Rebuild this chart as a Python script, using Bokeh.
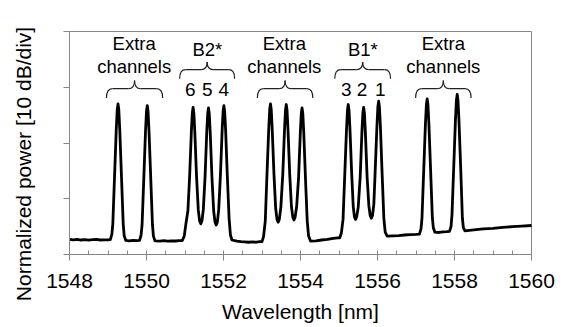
import math
from bokeh.plotting import figure
from bokeh.models import Range1d, FixedTicker
from bokeh.core.properties import value
from bokeh.embed import file_html
from bokeh.resources import INLINE

FONT = "Liberation Sans"
AXIS_GRAY = "#868686"

# ---- spectrum (wavelength in nm, power in dB) ----
wavelength_nm = [
    1548.00, 1548.10, 1548.20, 1548.30, 1548.40, 1548.50, 1548.60, 1548.70, 1548.80, 1548.90, 1549.00,
    # extra channel
    1549.06, 1549.10, 1549.125, 1549.17, 1549.215, 1549.24, 1549.26, 1549.28, 1549.305, 1549.35, 1549.395, 1549.42, 1549.46,
    1549.55, 1549.65, 1549.75,
    # extra channel
    1549.82, 1549.86, 1549.885, 1549.93, 1549.975, 1550.00, 1550.02, 1550.04, 1550.065, 1550.11, 1550.155, 1550.18, 1550.22,
    1550.35, 1550.45, 1550.55, 1550.65, 1550.75, 1550.85,
    # B2 group (6, 5, 4)
    1550.93, 1550.98, 1551.03, 1551.075, 1551.12, 1551.165, 1551.19, 1551.21, 1551.23, 1551.255, 1551.30, 1551.345, 1551.38,
    1551.41, 1551.44, 1551.475, 1551.52, 1551.565, 1551.59, 1551.61, 1551.63, 1551.655, 1551.70, 1551.745, 1551.78,
    1551.81, 1551.84, 1551.875, 1551.92, 1551.965, 1551.99, 1552.01, 1552.03, 1552.055, 1552.10, 1552.145, 1552.18, 1552.22,
    1552.35, 1552.45, 1552.55, 1552.65, 1552.75, 1552.85, 1552.95,
    # extra group (three channels)
    1553.00, 1553.04, 1553.085, 1553.13, 1553.175, 1553.20, 1553.22, 1553.24, 1553.265, 1553.31, 1553.355, 1553.39,
    1553.42, 1553.45, 1553.49, 1553.54, 1553.585, 1553.61, 1553.63, 1553.65, 1553.675, 1553.72, 1553.765, 1553.80,
    1553.83, 1553.86, 1553.90, 1553.95, 1553.995, 1554.02, 1554.04, 1554.06, 1554.085, 1554.13, 1554.175, 1554.21, 1554.26,
    1554.40, 1554.55, 1554.70, 1554.85, 1554.97,
    # B1 group (3, 2, 1)
    1555.02, 1555.06, 1555.105, 1555.15, 1555.195, 1555.22, 1555.24, 1555.26, 1555.285, 1555.33, 1555.37, 1555.40,
    1555.43, 1555.46, 1555.50, 1555.55, 1555.595, 1555.62, 1555.64, 1555.66, 1555.685, 1555.73, 1555.775, 1555.81,
    1555.84, 1555.87, 1555.905, 1555.94, 1555.985, 1556.01, 1556.03, 1556.05, 1556.075, 1556.12, 1556.165, 1556.20, 1556.25,
    1556.40, 1556.55, 1556.70, 1556.85, 1557.00,
    # extra channels
    1557.09, 1557.13, 1557.155, 1557.20, 1557.245, 1557.27, 1557.29, 1557.31, 1557.335, 1557.38, 1557.425, 1557.45, 1557.49,
    1557.60, 1557.70, 1557.80,
    1557.87, 1557.91, 1557.935, 1557.98, 1558.025, 1558.05, 1558.07, 1558.09, 1558.115, 1558.16, 1558.205, 1558.23, 1558.27,
    1558.50, 1558.75, 1559.00, 1559.25, 1559.50, 1559.75, 1560.00,
]
power_db = [
    2.70, 2.62, 2.72, 2.60, 2.68, 2.58, 2.66, 2.70, 2.60, 2.64, 2.62,
    2.65, 3.6, 5.5, 14.0, 22.5, 26.0, 27.0, 26.0, 22.5, 14.0, 5.5, 3.4, 2.55,
    2.45, 2.55, 2.48,
    2.55, 3.5, 5.3, 13.7, 22.2, 25.7, 26.7, 25.7, 22.2, 13.7, 5.3, 3.3, 2.45,
    2.40, 2.48, 2.38, 2.45, 2.42, 2.50,
    2.5, 3.3, 5.8, 7.8, 14.0, 22.0, 25.4, 26.4, 25.4, 22.0, 14.0, 8.0, 6.0,
    5.5, 6.0, 8.0, 13.8, 21.9, 25.3, 26.3, 25.3, 21.9, 13.8, 7.8, 5.8,
    5.3, 5.8, 8.0, 14.2, 22.3, 25.7, 26.7, 25.7, 22.3, 14.0, 6.5, 3.5, 2.6,
    2.40, 2.30, 2.25, 2.20, 2.25, 2.20, 2.30,
    2.3, 3.2, 6.0, 14.5, 22.5, 26.0, 27.0, 26.0, 22.5, 14.5, 8.3, 6.3,
    5.8, 6.3, 8.5, 14.4, 22.4, 25.9, 26.9, 25.9, 22.4, 14.4, 8.6, 6.7,
    6.2, 6.7, 8.6, 13.8, 21.8, 25.3, 26.3, 25.3, 21.8, 13.5, 6.0, 3.3, 2.4,
    2.45, 2.60, 2.70, 2.90, 3.00,
    3.0, 3.8, 6.3, 14.4, 22.4, 25.9, 26.9, 25.9, 22.4, 14.4, 8.6, 6.8,
    6.3, 6.8, 8.5, 13.9, 21.9, 25.4, 26.4, 25.4, 21.9, 13.9, 8.8, 7.0,
    6.5, 7.0, 9.0, 15.0, 23.0, 26.5, 27.5, 26.5, 23.0, 14.5, 6.5, 4.0, 3.3,
    3.35, 3.40, 3.50, 3.55, 3.60,
    3.65, 4.6, 6.5, 15.0, 23.4, 26.9, 27.9, 26.9, 23.4, 15.0, 6.6, 4.8, 4.0,
    3.95, 4.05, 4.10,
    4.15, 5.0, 7.2, 15.7, 24.2, 27.7, 28.7, 27.7, 24.2, 15.7, 6.5, 4.8, 4.25,
    4.40, 4.60, 4.70, 4.85, 5.00, 5.10, 5.20,
]

# ---- axes ----
X_MIN, X_MAX = 1548, 1560
Y_MIN, Y_MAX = 0, 40
x_ticks = [1548, 1550, 1552, 1554, 1556, 1558, 1560]
x_minor_ticks = [1548.5, 1549.0, 1549.5, 1550.5, 1551.0, 1551.5, 1552.5, 1553.0, 1553.5,
                 1554.5, 1555.0, 1555.5, 1556.5, 1557.0, 1557.5, 1558.5, 1559.0, 1559.5]
y_ticks = [0, 10, 20, 30, 40]
x_title = "Wavelength [nm]"
y_title = "Normalized power [10 dB/div]"

# ---- annotations ----
group_text = ["Extra", "channels", "B2*", "Extra", "channels", "B1*", "Extra", "channels"]
group_text_x = [1549.68, 1549.68, 1551.58, 1553.58, 1553.58, 1555.62, 1557.71, 1557.71]
group_text_y = [37.81, 33.79, 36.79, 37.81, 33.79, 36.79, 37.81, 33.79]

channel_text = ["6", "5", "4", "3", "2", "1"]
channel_text_x = [1551.14, 1551.58, 1552.01, 1555.19, 1555.60, 1556.07]
channel_text_y = [29.61, 29.61, 29.61, 29.61, 29.61, 29.61]

brace_left = [1548.96, 1550.86, 1552.88, 1554.89, 1556.99]
brace_right = [1550.42, 1552.29, 1554.32, 1556.34, 1558.43]
brace_tip = [28.05, 31.53, 28.05, 31.53, 28.05]
brace_flat = [29.74, 33.15, 29.74, 33.15, 29.74]
brace_mid = [31.22, 34.51, 31.22, 34.51, 31.22]
BRACE_R = 0.156

# ---- layout: plot box 69..531 px wide, 31..254 px tall in a 564x327 canvas ----
W, H = 564, 327
BOX_L, BOX_R, BOX_T, BOX_B = 69, 531, 31, 254
px_per_x = (BOX_R - BOX_L) / (X_MAX - X_MIN)
px_per_y = (BOX_B - BOX_T) / (Y_MAX - Y_MIN)
x_range = Range1d(X_MIN - BOX_L / px_per_x, X_MAX + (W - BOX_R) / px_per_x)
y_range = Range1d(Y_MIN - (H - BOX_B) / px_per_y, Y_MAX + BOX_T / px_per_y)

p = figure(width=W, height=H, x_range=x_range, y_range=y_range,
           output_backend="svg", toolbar_location=None,
           min_border_left=0, min_border_right=0, min_border_top=0, min_border_bottom=0)
p.xgrid.visible = False
p.ygrid.visible = False
p.outline_line_color = None
p.background_fill_color = "white"
p.border_fill_color = "white"

xa = p.xaxis[0]
xa.fixed_location = Y_MIN
xa.bounds = (X_MIN, X_MAX)
xa.ticker = FixedTicker(ticks=x_ticks, minor_ticks=x_minor_ticks)
xa.major_tick_in = 4
xa.major_tick_out = 6
xa.minor_tick_in = 4
xa.minor_tick_out = 0
xa.axis_line_color = AXIS_GRAY
xa.major_tick_line_color = AXIS_GRAY
xa.minor_tick_line_color = AXIS_GRAY
xa.major_label_text_font = FONT
xa.major_label_text_font_size = "21px"
xa.major_label_text_color = "black"
xa.major_label_standoff = 13
xa.axis_label = x_title
xa.axis_label_text_font = FONT
xa.axis_label_text_font_size = "21px"
xa.axis_label_text_font_style = "normal"
xa.axis_label_text_color = "black"
xa.axis_label_standoff = 9

ya = p.yaxis[0]
ya.fixed_location = X_MIN
ya.bounds = (Y_MIN, Y_MAX)
ya.ticker = FixedTicker(ticks=y_ticks, minor_ticks=[])
ya.major_tick_in = 0
ya.major_tick_out = 6
ya.minor_tick_in = 0
ya.minor_tick_out = 0
ya.axis_line_color = AXIS_GRAY
ya.major_tick_line_color = AXIS_GRAY
ya.major_label_overrides = {t: "" for t in y_ticks}
ya.major_label_text_font = FONT
ya.major_label_standoff = 0

# top and right edges of the plot box
p.line([X_MIN, X_MAX, X_MAX], [Y_MAX, Y_MAX, Y_MIN], line_color=AXIS_GRAY, line_width=1)

# y title, rotated
p.text(x=[X_MIN - 46 / px_per_x], y=[Y_MIN + 90.5 / px_per_y], text=[y_title], angle=math.pi / 2,
       text_font=value(FONT), text_font_size=value("21px"), text_color="black",
       text_align="center", text_baseline="alphabetic")

p.line(wavelength_nm, power_db, line_color="black", line_width=2.8, line_join="round")

p.text(x=group_text_x, y=group_text_y, text=group_text,
       text_font=value(FONT), text_font_size=value("18.5px"), text_color="black",
       text_align="center", text_baseline="alphabetic")
p.text(x=channel_text_x, y=channel_text_y, text=channel_text,
       text_font=value(FONT), text_font_size=value("19px"), text_color="black",
       text_align="center", text_baseline="alphabetic")

# curly braces built from the span lists
q_x0, q_y0, q_x1, q_y1, q_cx, q_cy = [], [], [], [], [], []
s_x0, s_y0, s_x1, s_y1 = [], [], [], []
for xl, xr, yt, yf, ym in zip(brace_left, brace_right, brace_tip, brace_flat, brace_mid):
    xc = (xl + xr) / 2
    r = BRACE_R
    for a0, b0, a1, b1, ca, cb in [
        (xl, yt, xl + r, yf, xl, yf),
        (xc - r, yf, xc, ym, xc, yf),
        (xc, ym, xc + r, yf, xc, yf),
        (xr - r, yf, xr, yt, xr, yf),
    ]:
        q_x0.append(a0); q_y0.append(b0); q_x1.append(a1); q_y1.append(b1); q_cx.append(ca); q_cy.append(cb)
    s_x0 += [xl + r, xc + r]
    s_x1 += [xc - r, xr - r]
    s_y0 += [yf, yf]
    s_y1 += [yf, yf]

p.quadratic(x0=q_x0, y0=q_y0, x1=q_x1, y1=q_y1, cx=q_cx, cy=q_cy, line_color="#222222", line_width=1.2)
p.segment(x0=s_x0, y0=s_y0, x1=s_x1, y1=s_y1, line_color="#222222", line_width=1.2)

open("out.html", "w").write(file_html(p, INLINE))
